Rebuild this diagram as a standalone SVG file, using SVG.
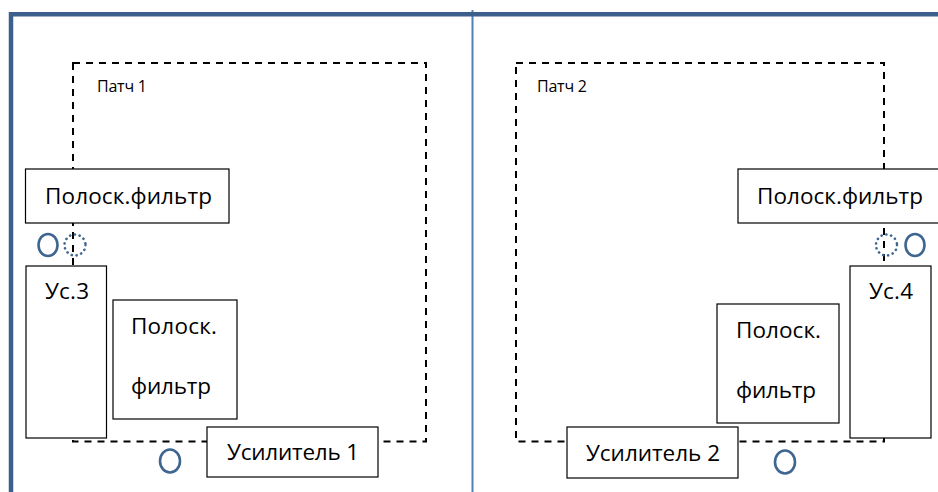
<svg xmlns="http://www.w3.org/2000/svg" width="938" height="492" viewBox="0 0 938 492">
<style>
.frame{fill:none;stroke:#3c5f8c;stroke-width:4.5}
.div{stroke:#4f81bd;stroke-width:2}
.patch{fill:none;stroke:#000;stroke-width:2;stroke-dasharray:7 6}
.box{fill:#fff;stroke:#000;stroke-width:1.2}
.t{font-family:"Open Sans","Noto Sans","Liberation Sans",sans-serif;font-size:22.5px;fill:#000}
.s{font-family:"Open Sans","Noto Sans","Liberation Sans",sans-serif;font-size:16px;fill:#000}
.port{fill:none;stroke:#3f6591;stroke-width:2.6}
.dport{fill:none;stroke:#3f6591;stroke-width:2.6;stroke-dasharray:0.1 4.8;stroke-linecap:round}
</style>
<rect width="938" height="492" fill="#fff"/>
<g id="frame">
<line class="div" x1="472.5" y1="10" x2="472.5" y2="492"/>
<path class="frame" d="M11 492 V14.3 H938"/>
</g>
<g id="connectors">
<rect id="patch1" class="patch" x="73" y="63" width="353" height="378.5"/>
<rect id="patch2" class="patch" x="516" y="63" width="368" height="378.5"/>
</g>
<g id="patch1-label"><text class="s" x="97" y="92" textLength="50">Патч 1</text></g>
<g id="patch2-label"><text class="s" x="537" y="92" textLength="50">Патч 2</text></g>
<g id="filter1">
<rect class="box" x="25.5" y="169" width="203.5" height="54"/>
<text class="t" x="45" y="204" textLength="167">Полоск.фильтр</text>
</g>
<g id="port1a"><ellipse class="port" cx="48" cy="245" rx="9.5" ry="11"/></g>
<g id="port1b"><circle class="dport" cx="75" cy="245" r="10.5"/></g>
<g id="amp3">
<rect class="box" x="26" y="266" width="80.5" height="172"/>
<text class="t" x="45" y="299" textLength="44">Ус.3</text>
</g>
<g id="filter1b">
<rect class="box" x="113" y="300" width="124" height="119"/>
<text class="t" x="131" y="334" textLength="86">Полоск.</text>
<text class="t" x="131" y="394" textLength="80">фильтр</text>
</g>
<g id="amp1">
<rect class="box" x="207" y="427" width="171" height="50"/>
<text class="t" x="227" y="460" textLength="132">Усилитель 1</text>
</g>
<g id="port1c"><ellipse class="port" cx="170" cy="461" rx="10" ry="11.5"/></g>
<g id="filter2">
<rect class="box" x="738" y="169" width="210" height="54"/>
<text class="t" x="757" y="204" textLength="166">Полоск.фильтр</text>
</g>
<g id="port2b"><circle class="dport" cx="886.5" cy="245" r="10.5"/></g>
<g id="port2a"><ellipse class="port" cx="915" cy="245" rx="9.5" ry="11"/></g>
<g id="amp4">
<rect class="box" x="850" y="266" width="81" height="172"/>
<text class="t" x="869" y="299" textLength="44">Ус.4</text>
</g>
<g id="filter2b">
<rect class="box" x="717" y="304" width="122" height="119"/>
<text class="t" x="736" y="338" textLength="85">Полоск.</text>
<text class="t" x="736" y="398" textLength="80">фильтр</text>
</g>
<g id="amp2">
<rect class="box" x="567" y="427" width="171" height="51"/>
<text class="t" x="586" y="461" textLength="134">Усилитель 2</text>
</g>
<g id="port2c"><ellipse class="port" cx="785" cy="462" rx="10" ry="11.5"/></g>
</svg>
